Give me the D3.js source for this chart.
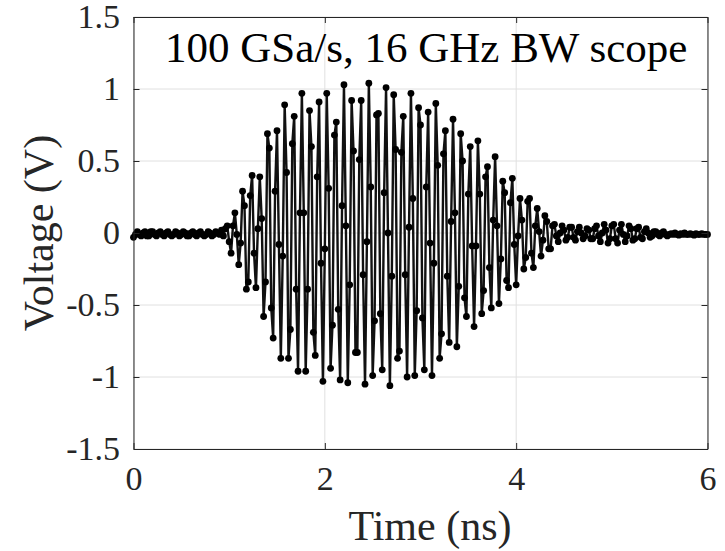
<!DOCTYPE html>
<html>
<head>
<meta charset="utf-8">
<script src="https://cdn.jsdelivr.net/npm/d3@7"></script>
<style>
  body { margin: 0; background: #fff; }
  svg { display: block; font-family: "Liberation Serif", "Times New Roman", serif; }
</style>
</head>
<body>
<svg id="chart" width="725" height="551"></svg>
<script>
// Scope trace, one sample every 20 ps (values in V)
const sampleStep = 0.02;

const preTrigger = [
  -0.03, -0.01, 0.01, -0.01, -0.02, 0.00, 0.01, -0.02, -0.02, 0.01,
  0.01, -0.01, -0.02, 0.00, 0.01, -0.01, -0.02, 0.00, 0.01, -0.01,
  -0.02, -0.01, 0.01, 0.00, -0.02, -0.01, 0.01, 0.00, -0.02, -0.02,
  0.00, 0.01, -0.01, -0.02, 0.00, 0.01, -0.01, -0.02, -0.01, 0.01,
  0.00, -0.02, -0.01, 0.01, 0.00, -0.01, 0.02, -0.02,
];

const burst = [
  0.03, 0.05, -0.06, -0.14, 0.05, 0.14, -0.01, -0.22, -0.07, 0.29,
  0.19, -0.39, -0.34, 0.26, 0.40, -0.14, -0.38, 0.03, 0.39, 0.10,
  -0.58, -0.34, 0.69, 0.59, -0.52, -0.73, 0.29, 0.71, -0.08, -0.87,
  -0.16, 0.89, 0.42, -0.87, -0.67, 0.62, 0.81, -0.39, -0.96, 0.14,
  0.97, 0.14, -0.96, -0.39, 0.85, 0.60, -0.69, -0.85, 0.39, 0.91,
  -0.21, -1.03, -0.11, 0.97, 0.31, -0.94, -0.64, 0.68, 0.77, -0.53,
  -1.02, 0.19, 1.03, 0.05, -1.04, -0.36, 0.92, 0.57, -0.83, -0.83,
  0.51, 0.92, -0.29, -1.05, -0.06, 1.04, 0.32, -0.99, -0.61, 0.82,
  0.83, -0.56, -0.95, 0.28, 1.01, 0.00, -1.06, -0.30, 0.96, 0.58,
  -0.87, -0.82, 0.56, 0.81, -0.29, -1.00, 0.04, 0.97, 0.24, -0.99,
  -0.54, 0.87, 0.75, -0.59, -0.95, 0.32, 0.84, -0.07, -0.99, -0.21,
  0.90, 0.47, -0.87, -0.70, 0.55, 0.71, -0.30, -0.76, 0.08, 0.79,
  0.14, -0.79, -0.37, 0.69, 0.50, -0.45, -0.58, 0.27, 0.60, -0.09,
  -0.65, -0.09, 0.64, 0.27, -0.56, -0.40, 0.39, 0.46, -0.24, -0.52,
  0.09, 0.53, 0.05, -0.49, -0.18, 0.36, 0.28, -0.33, -0.38, 0.21,
  0.38, -0.08, -0.36, -0.02, 0.24, 0.09, -0.25, -0.17, 0.22, 0.24,
  -0.14, -0.24, 0.05, 0.17, 0.01, -0.16, -0.05, 0.12, 0.08, -0.11,
  -0.11, 0.05, 0.06, -0.02, -0.06,
];

const ringdown = [
  0.00, 0.05, 0.02, -0.05, -0.03, 0.04, 0.04, -0.03, -0.05, 0.01,
  0.04, 0.00, -0.04, -0.02, 0.03, 0.02, -0.04, -0.04, 0.03, 0.05,
  -0.02, -0.06, 0.00, 0.06, 0.02, -0.07, -0.04, 0.05, 0.06, -0.04,
  -0.07, 0.02, 0.06, -0.01, -0.06, -0.02, 0.05, 0.03, -0.05, -0.04,
  0.03, 0.04, -0.03, -0.04, 0.01, 0.03, 0.00, -0.03, -0.02, 0.01,
  0.01, -0.01, -0.02, 0.00, 0.01, -0.01, -0.02, -0.01, -0.005, -0.01,
  0.00, -0.01, -0.015, -0.005, -0.01, 0.00, -0.01, -0.01, -0.005, -0.01,
  -0.015, -0.005, -0.01, -0.01, -0.005, -0.01, -0.01, -0.01,
];

const xTicks = [0, 2, 4, 6];
const yTicks = [-1.5, -1, -0.5, 0, 0.5, 1, 1.5];
const annotation = "100 GSa/s, 16 GHz BW scope";
const xLabel = "Time (ns)";
const yLabel = "Voltage (V)";

// Build the trace
const data = preTrigger
  .concat(burst, ringdown)
  .map((v, i) => ({ time: i * sampleStep, volt: v }));

// Constants
const svg = d3.select("#chart");
const plot = { left: 133.5, right: 707.5, top: 17, bottom: 449 };
const axisColor = "#262626";
const gridColor = "#e0e0e0";

// Scales
const xScale = d3.scaleLinear().domain([0, 6]).range([plot.left, plot.right]);
const yScale = d3.scaleLinear().domain([-1.5, 1.5]).range([plot.bottom, plot.top]);

svg.append("rect").attr("width", 725).attr("height", 551).attr("fill", "#fff");

// Grid
const grid = svg.append("g");
grid
  .selectAll("line.gx")
  .data(xTicks)
  .join("line")
  .attr("x1", (d) => xScale(d))
  .attr("x2", (d) => xScale(d))
  .attr("y1", plot.top)
  .attr("y2", plot.bottom)
  .attr("stroke", gridColor);
grid
  .selectAll("line.gy")
  .data(yTicks)
  .join("line")
  .attr("x1", plot.left)
  .attr("x2", plot.right)
  .attr("y1", (d) => yScale(d))
  .attr("y2", (d) => yScale(d))
  .attr("stroke", gridColor);

// Text inside the axes
svg
  .append("text")
  .attr("x", 165)
  .attr("y", 62)
  .attr("font-size", 43)
  .attr("fill", "#000")
  .text(annotation);

// Trace line + markers
const line = d3
  .line()
  .x((d) => xScale(d.time))
  .y((d) => yScale(d.volt));

svg
  .append("path")
  .datum(data)
  .attr("fill", "none")
  .attr("stroke", "#111")
  .attr("stroke-width", 2.4)
  .attr("stroke-linejoin", "round")
  .attr("d", line);

svg
  .append("g")
  .selectAll("circle")
  .data(data)
  .join("circle")
  .attr("cx", (d) => xScale(d.time))
  .attr("cy", (d) => yScale(d.volt))
  .attr("r", 3.4)
  .attr("fill", "#000");

// Axis
const tickFormat = (d) => (d === 0 ? "0" : d3.format("")(d).replace("\u2212", "-"));

const xAxis = d3.axisBottom(xScale).tickValues(xTicks).tickSize(-6).tickPadding(17).tickSizeOuter(0).tickFormat(tickFormat);
const yAxis = d3.axisLeft(yScale).tickValues(yTicks).tickSize(-6).tickPadding(13.5).tickSizeOuter(0).tickFormat(tickFormat);
const xTop = d3.axisTop(xScale).tickValues(xTicks).tickSize(-6).tickSizeOuter(0).tickFormat("");
const yRight = d3.axisRight(yScale).tickValues(yTicks).tickSize(-6).tickSizeOuter(0).tickFormat("");

svg.append("g").attr("class", "axis").attr("transform", `translate(0, ${plot.bottom})`).call(xAxis);
svg.append("g").attr("class", "axis").attr("transform", `translate(${plot.left}, 0)`).call(yAxis);
svg.append("g").attr("class", "axis").attr("transform", `translate(0, ${plot.top})`).call(xTop);
svg.append("g").attr("class", "axis").attr("transform", `translate(${plot.right}, 0)`).call(yRight);

// Styling Axis
svg.selectAll(".axis .domain").attr("stroke", axisColor);
svg.selectAll(".axis .tick line").attr("stroke", axisColor);
svg
  .selectAll(".axis .tick text")
  .attr("fill", axisColor)
  .style("font-size", "34px")
  .style("font-family", "'Liberation Serif', 'Times New Roman', serif");

// Labels
svg
  .append("text")
  .attr("x", 430)
  .attr("y", 540)
  .attr("text-anchor", "middle")
  .attr("font-size", 42)
  .attr("fill", axisColor)
  .text(xLabel);

svg
  .append("text")
  .attr("transform", `translate(53, ${(plot.top + plot.bottom) / 2}) rotate(-90)`)
  .attr("text-anchor", "middle")
  .attr("font-size", 42)
  .attr("fill", axisColor)
  .text(yLabel);
</script>
</body>
</html>
